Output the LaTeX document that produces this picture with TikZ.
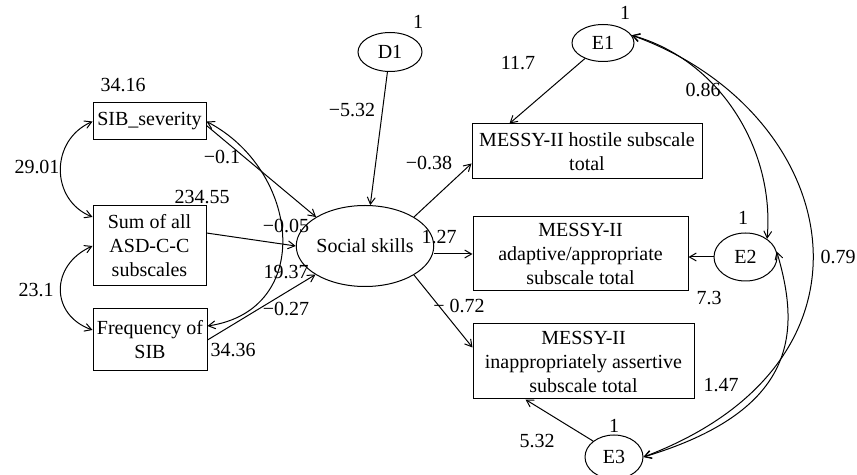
\documentclass[tikz,border=0pt]{standalone}
\usepackage{fontspec}
\setmainfont{Liberation Serif}
\usetikzlibrary{shapes, arrows}
\tikzstyle{observed} = [rectangle, draw=black, align=center, inner sep=0.5pt]
\tikzstyle{latent} = [ellipse, draw=black, inner sep=0pt]
\tikzstyle{weight} = [inner sep=0pt]
\tikzstyle{edge} = [->, >=angle 60]
\tikzstyle{covar} = [<->, >=angle 60]

\begin{document}
\begin{tikzpicture}[x=0.5pt, y=-0.5pt, line width=0.5pt]
\useasboundingbox (0,0) rectangle (857,475);

\node (0) [observed, minimum width=56.5pt, minimum height=18.5pt] at (149.5,121.5) {SIB\_severity};
\node (1) [observed, minimum width=56.5pt, minimum height=40pt] at (149.5,246) {Sum of all\\ASD-C-C\\subscales};
\node (2) [observed, minimum width=57pt, minimum height=31pt] at (150,340) {Frequency of\\SIB};
\node (3) [latent, minimum width=56pt, minimum height=40.5pt] at (365,246) {Social skills};
\node (4) [latent, minimum width=32pt, minimum height=19.5pt] at (390,52) {D1};
\node (5) [observed, minimum width=115pt, minimum height=27.5pt] at (587,151.5) {MESSY-II hostile subscale\\total};
\node (6) [observed, minimum width=107.5pt, minimum height=37pt] at (580.5,254) {MESSY-II\\adaptive/appropriate\\subscale total};
\node (7) [observed, minimum width=110.5pt, minimum height=37.5pt] at (583.5,361.5) {MESSY-II\\inappropriately assertive\\subscale total};
\node (8) [latent, minimum width=31pt, minimum height=18.5pt] at (603,43) {E1};
\node (9) [latent, minimum width=31.5pt, minimum height=24pt] at (745.5,257) {E2};
\node (10) [latent, minimum width=29pt, minimum height=22pt] at (614,457) {E3};

\node (w0) [weight] at (123,85) {34.16};
\node (w1) [weight] at (202,197) {234.55};
\node (w2) [weight] at (233,350) {34.36};
\node (w3) [weight] at (37,167) {29.01};
\node (w4) [weight] at (36,290) {23.1};
\node (w5) [weight] at (222,157) {−0.1};
\node (w6) [weight] at (286,226) {−0.05};
\node (w7) [weight] at (286,272) {19.37};
\node (w8) [weight] at (286,309) {−0.27};
\node (w9) [weight] at (418,22) {1};
\node (w10) [weight] at (352,110) {−5.32};
\node (w11) [weight] at (429,163) {−0.38};
\node (w12) [weight] at (439,237) {1.27};
\node (w13) [weight] at (459,306) {− 0.72};
\node (w14) [weight] at (625,13) {1};
\node (w15) [weight] at (518,63) {11.7};
\node (w16) [weight] at (703,90) {0.86};
\node (w17) [weight] at (743,218) {1};
\node (w18) [weight] at (709,298) {7.3};
\node (w19) [weight] at (838,257) {0.79};
\node (w20) [weight] at (721,385) {1.47};
\node (w21) [weight] at (614,426) {1};
\node (w22) [weight] at (537,441) {5.32};

\draw [edge] (4) -- (3);
\draw [edge] ([yshift=-2pt]0.east) -- (3.north west);
\draw [edge] ([yshift=6.5pt]1.east) -- (3.west);
\draw [edge] (2.east) -- (3.210);
\draw [covar] (0.east) .. controls (300,170) and (315,310) .. ([yshift=7pt]2.east);
\draw [covar] (0.west) .. controls (50,140) and (50,200) .. ([yshift=14.5pt]1.west);
\draw [covar] (1.west) .. controls (50,265) and (50,315) .. ([yshift=5pt]2.west);
\draw [edge] (3.north east) -- ([yshift=-6pt]5.west);
\draw [edge] (3.east |- 6.west) -- (6.west);
\draw [edge] (3.south east) -- ([yshift=7pt]7.west);
\draw [edge] (8) -- ([xshift=19pt]5.north west);
\draw [edge] (9.west) -- (9.west -| 6.east);
\draw [edge] (10.north west) -- ([xshift=26.5pt]7.south west);
\draw [covar] (8.15) .. controls (720,60) and (775,150) .. (9.40);
\draw [covar] (8.15) .. controls (840,110) and (900,360) .. (10.east);
\draw [covar] (9.10) .. controls (800,330) and (800,410) .. (10.east);

\end{tikzpicture}
\end{document}
